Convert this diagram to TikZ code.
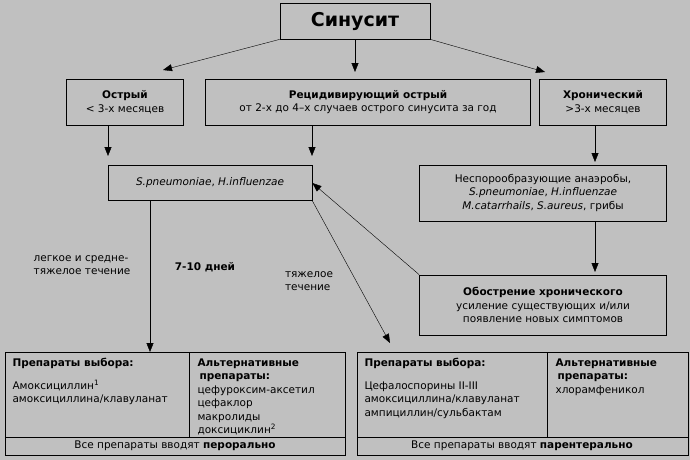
\documentclass[tikz,border=0pt]{standalone}
\usepackage{fontspec}
\setmainfont{DejaVu Sans}
\usetikzlibrary{arrows.meta}
\definecolor{bg}{HTML}{C0C0C0}
\begin{document}
\begin{tikzpicture}[x=1pt,y=-1pt,
  box/.style={draw,thick,align=center,inner sep=0pt,font=\fontsize{10.5}{13.5}\selectfont},
  arr/.style={-{Triangle[length=9pt,width=7pt]},thin},
  lbl/.style={align=left,font=\fontsize{10.5}{13.5}\selectfont},
  every node/.style={font=\fontsize{10.5}{13.5}\selectfont}]
\fill[bg] (0,0) rectangle (690,460);
\useasboundingbox (0,0) rectangle (690,460);
\node[box,minimum width=150,minimum height=36,font=\fontsize{19}{22}\bfseries] (t) at (355,21) {Синусит};
\node[box,minimum width=117,minimum height=46] (a) at (125,102) {\textbf{Острый}\\< 3-х месяцев};
\node[box,minimum width=325,minimum height=46] (r) at (368,102) {\textbf{Рецидивирующий острый}\\от 2-х до 4--х случаев острого синусита за год};
\node[box,minimum width=127,minimum height=46] (c) at (603,102) {\textbf{Хронический}\\>3-х месяцев};
\node[box,minimum width=204,minimum height=35] (s) at (210,183) {\textit{S.pneumoniae}, \textit{H.influenzae}};
\node[box,minimum width=247,minimum height=56] (n) at (543,193) {Неспорообразующие анаэробы,\\\textit{S.pneumoniae}, \textit{H.influenzae}\\\textit{M.catarrhails}, \textit{S.aureus}, грибы};
\node[box,minimum width=247,minimum height=60] (o) at (543,305) {\textbf{Обострение хронического}\\усиление существующих и/или\\появление новых симптомов};
% tables
\draw[thick] (5,352) rectangle (345,455);
\draw[thick] (5,437) -- (345,437);
\draw[thick] (189,352) -- (189,437);
\node[lbl,anchor=north west] (l1) at (9,355) {\textbf{Препараты выбора:}\\[9pt]Амоксициллин\textsuperscript{1}\\амоксициллина/клавуланат};
\node[lbl,anchor=north west] (l2) at (194,355) {\textbf{Альтернативные}\\\hspace{2pt}\textbf{препараты:}\\цефуроксим-аксетил\\цефаклор\\макролиды\\доксициклин\textsuperscript{2}};
\node (lf) at (175,446) {Все препараты вводят \textbf{перорально}};
\draw[thick] (357,352) rectangle (688,455);
\draw[thick] (357,437) -- (688,437);
\draw[thick] (547,352) -- (547,437);
\node[lbl,anchor=north west] (r1) at (361,355) {\textbf{Препараты выбора:}\\[9pt]Цефалоспорины II-III\\амоксициллина/клавуланат\\ампициллин/сульбактам};
\node[lbl,anchor=north west] (r2) at (552,355) {\textbf{Альтернативные}\\\hspace{2pt}\textbf{препараты:}\\хлорамфеникол};
\node (rf) at (522,446) {Все препараты вводят \textbf{парентерально}};
\coordinate (lt) at (150,352);
\coordinate (rt) at (390,343);
% labels
\node[lbl] (k1) at (82,265) {легкое и средне-\\тяжелое течение};
\node[font=\fontsize{10.5}{13.5}\bfseries] (k2) at (205,267) {7-10 дней};
\node[lbl] (k3) at (309,281) {тяжелое\\течение};
% arrows
\draw[arr] (t.south west) -- (163,70);
\draw[arr] (t.south) -- (355,72);
\draw[arr] (t.south east) -- (545,72);
\draw[arr] (108,125) -- (108,156);
\draw[arr] (312,125) -- (312,156);
\draw[arr] (595,125) -- (595,162);
\draw[arr] (595,221) -- (595,272);
\draw[arr] (o.north west) -- (s.east);
\draw[arr] (150,200.5) -- (lt);
\draw[arr] (s.south east) -- (rt);
\end{tikzpicture}
\end{document}
